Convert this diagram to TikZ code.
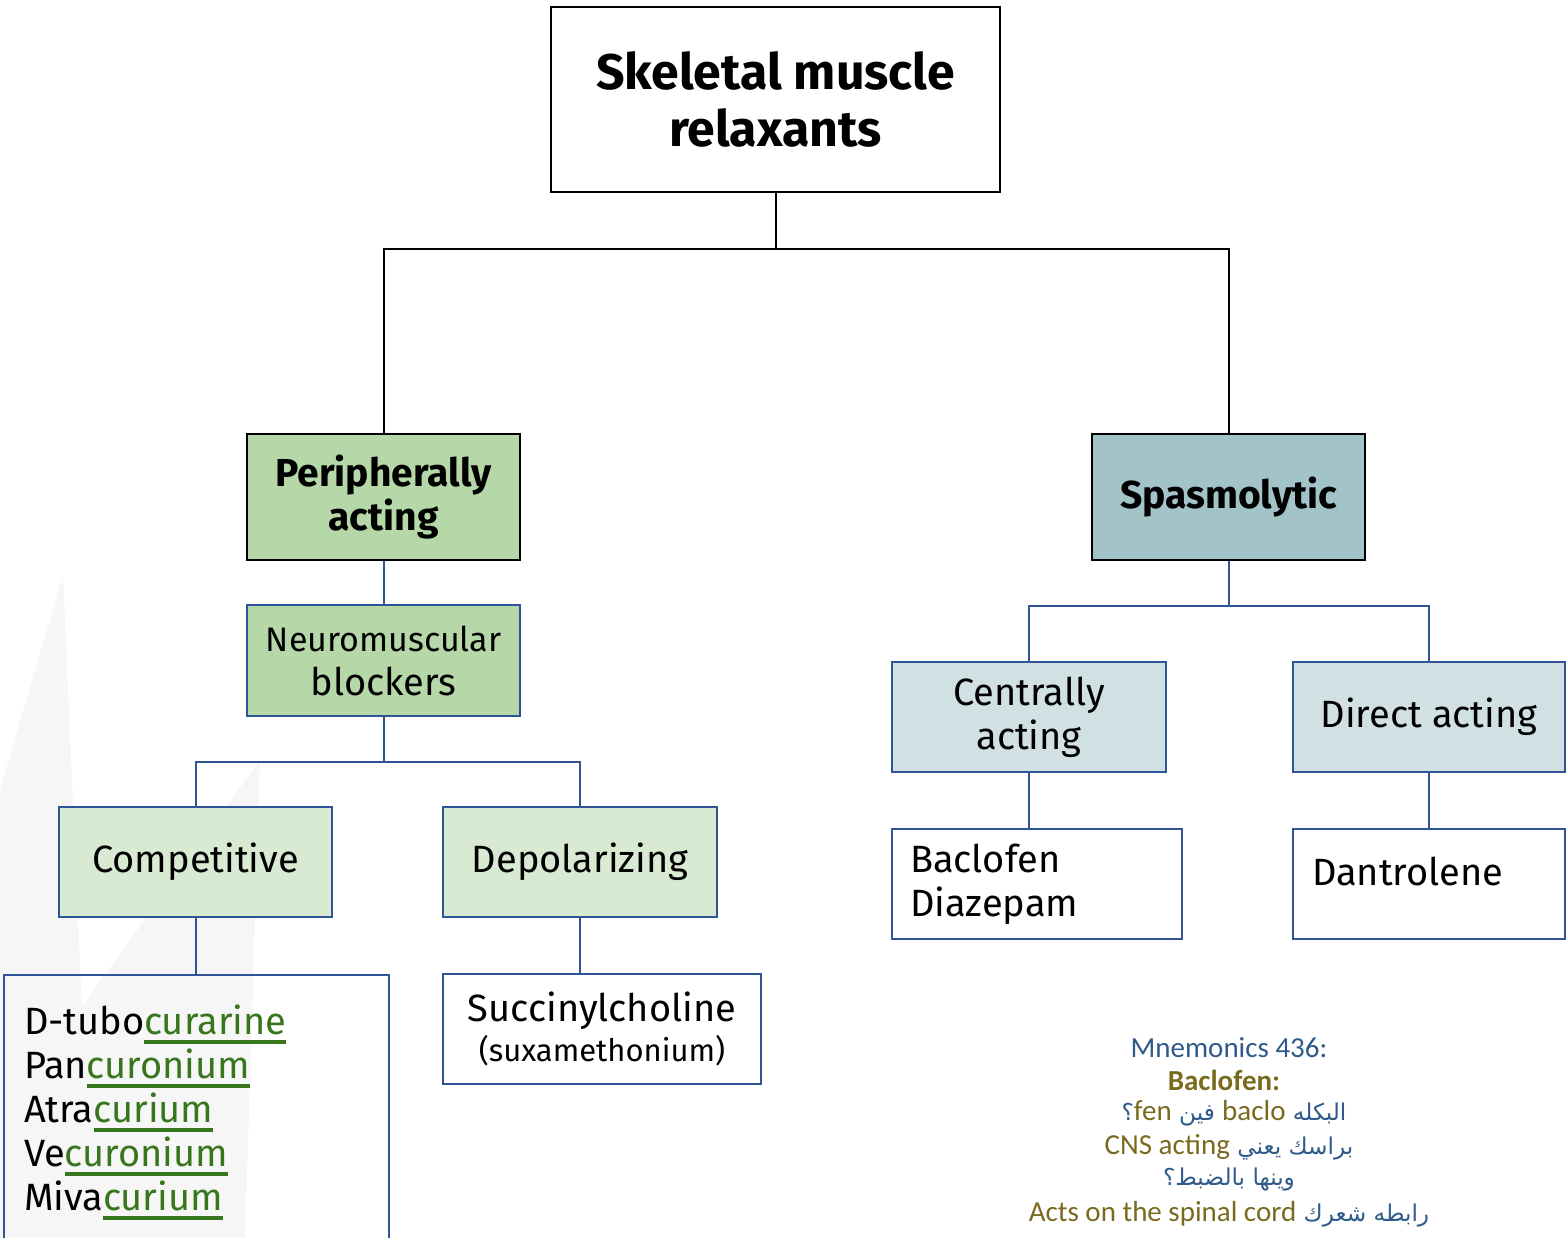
\documentclass[tikz,border=0pt]{standalone}
\usepackage{fontspec}
\setmainfont{Fira Sans}
\newfontfamily\mnfont{Carlito}
\newfontfamily\arabicfont[Script=Arabic, Scale=0.8]{DejaVu Sans}
\TeXXeTstate=1

\definecolor{pgreen}{HTML}{B6D7A8}
\definecolor{lgreen}{HTML}{D9EAD3}
\definecolor{pteal}{HTML}{A2C4C9}
\definecolor{lteal}{HTML}{D0E0E3}
\definecolor{bdr}{HTML}{2F5597}
\definecolor{cgreen}{HTML}{38761D}
\definecolor{mnblue}{HTML}{2F5A8A}
\definecolor{mnolive}{HTML}{7A6A1E}

% green, underlined part of each drug name
\newsavebox\curbox
\newcommand\cur[1]{{\color{cgreen}\sbox\curbox{#1}%
  \rlap{\rule[-9pt]{\wd\curbox}{3.5pt}}\usebox\curbox}}

\tikzset{
  box/.style={draw=bdr, line width=2pt, align=center, inner sep=0pt,
    font=\fontsize{38}{44}\selectfont},
  headbox/.style={box, draw=black, font=\fontsize{39}{44}\selectfont\bfseries},
  lnk/.style={draw=bdr, line width=2pt},
  blk/.style={draw=black, line width=2pt},
  mnline/.style={inner sep=0pt, text=mnblue, font=\fontsize{29}{33}\selectfont}
}

\begin{document}
\begin{tikzpicture}[x=1pt, y=-1pt]
  \useasboundingbox (0,0) rectangle (1566,1238);
  \clip (0,0) rectangle (1566,1238);

  % Faint watermark
  \fill[gray!7] (63,575) -- (92,1238) -- (0,1238) -- (0,790) -- cycle;
  \fill[gray!7] (260,760) -- (245,1238) -- (0,1238) -- (0,1120) -- cycle;

  % Title
  \node[box, draw=black, minimum width=449pt, minimum height=185pt,
    font=\fontsize{50}{57}\selectfont\bfseries] (top) at (775.5,99.5)
    {Skeletal muscle\\relaxants};

  % Main branches
  \node[headbox, fill=pgreen, minimum width=273pt, minimum height=126pt]
    (peri) at (383.5,497) {Peripherally\\acting};
  \node[headbox, fill=pteal, minimum width=273pt, minimum height=126pt]
    (spas) at (1228.5,497) {Spasmolytic};

  % Peripheral side
  \node[box, fill=pgreen, minimum width=273pt, minimum height=111pt]
    (nmb) at (383.5,660.5)
    {{\fontsize{34}{40}\selectfont Neuromuscular}\\blockers};
  \node[box, fill=lgreen, minimum width=273pt, minimum height=110pt]
    (comp) at (195.5,862) {Competitive};
  \node[box, fill=lgreen, minimum width=274pt, minimum height=110pt]
    (depol) at (580,862) {Depolarizing};
  \node[box, anchor=north west, minimum width=385pt, text width=345pt,
    align=left, inner xsep=19pt, inner ysep=30pt] (list) at (3,974)
    {D-tubo\cur{curarine}\\Pan\cur{curonium}\\Atra\cur{curium}\\
     Ve\cur{curonium}\\Miva\cur{curium}};
  \node[box, minimum width=318pt, minimum height=110pt]
    (succ) at (602,1029)
    {Succinylcholine\\[-4pt]{\fontsize{31}{36}\selectfont(suxamethonium)}};

  % Spasmolytic side
  \node[box, fill=lteal, minimum width=274pt, minimum height=110pt]
    (cen) at (1029,717) {Centrally\\acting};
  \node[box, fill=lteal, minimum width=272pt, minimum height=110pt]
    (dir) at (1429,717) {Direct acting};
  \node[box, minimum width=290pt, minimum height=110pt, text width=254pt,
    inner xsep=18pt, align=left] (bac) at (1037,884) {Baclofen\\Diazepam};
  \node[box, minimum width=272pt, minimum height=110pt, text width=234pt,
    inner xsep=19pt, align=left, text depth=26pt] (dant) at (1429,884)
    {Dantrolene};

  % Connectors
  \draw[blk] (top.south) -- ++(0,56) -| (peri.north);
  \draw[blk] (top.south) -- ++(0,56) -| (spas.north);
  \draw[lnk] (peri.south) -- (peri.south |- nmb.north);
  \draw[lnk] (nmb.south) -- ++(0,45) -| (comp.north);
  \draw[lnk] (nmb.south) -- ++(0,45) -| (depol.north);
  \draw[lnk] (comp.south) -- (comp.south |- list.north);
  \draw[lnk] (depol.south) -- (depol.south |- succ.north);
  \draw[lnk] (spas.south) -- ++(0,45) -| (cen.north);
  \draw[lnk] (spas.south) -- ++(0,45) -| (dir.north);
  \draw[lnk] (cen.south) -- (cen.south |- bac.north);
  \draw[lnk] (dir.south) -- (dir.south |- dant.north);

  % Mnemonics
  \node[mnline] (mn1) at (1229,1048) {\mnfont Mnemonics 436:};
  \node[mnline, text=mnolive] (mn2) at (1224,1080) {\mnfont\bfseries Baclofen:};
  \node[mnline] (mn3) at (1234,1113)
    {\arabicfont\beginR البكله \beginL{\mnfont\color{mnolive}baclo}\endL{} فين \beginL{\mnfont\color{mnolive}fen}\endL{}؟\endR};
  \node[mnline] (mn4) at (1229,1147)
    {\arabicfont\beginR براسك يعني \beginL{\mnfont\color{mnolive}CNS acting}\endL\endR};
  \node[mnline] (mn5) at (1229,1180) {\arabicfont\beginR وينها بالضبط؟\endR};
  \node[mnline] (mn6) at (1229,1214)
    {\arabicfont\beginR رابطه شعرك \beginL{\mnfont\color{mnolive}Acts on the spinal cord}\endL\endR};

\end{tikzpicture}
\end{document}
